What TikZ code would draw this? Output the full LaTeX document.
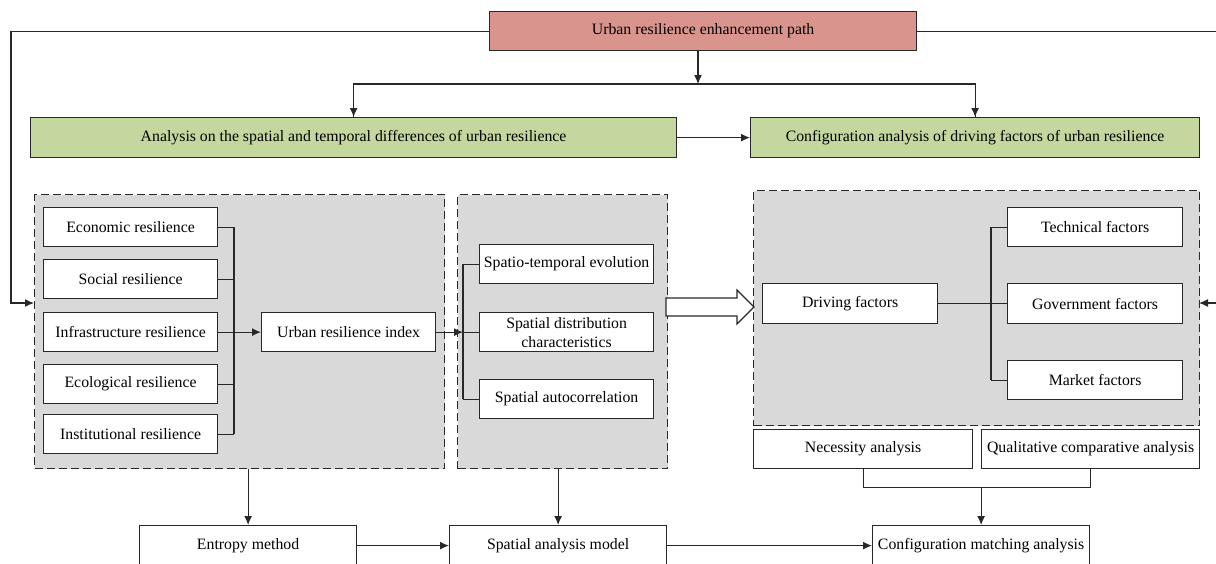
\documentclass[tikz,border=0pt]{standalone}
\usepackage{fontspec}
\setmainfont{Liberation Serif}
\usetikzlibrary{arrows.meta}
\definecolor{redfill}{RGB}{217,148,141}
\definecolor{greenfill}{RGB}{196,215,158}
\definecolor{panelfill}{RGB}{217,217,217}
\definecolor{linec}{RGB}{40,40,40}
\begin{document}
\begin{tikzpicture}[x=1pt,y=-1pt,
  font=\fontsize{15.8}{19}\selectfont,
  line width=1.2pt,
  box/.style={draw=linec, fill=white, inner sep=1pt, anchor=north west, align=center, text=black},
  redbox/.style={box, fill=redfill},
  greenbox/.style={box, fill=greenfill},
  panel/.style={draw=linec, fill=panelfill, dash pattern=on 8pt off 4pt, anchor=north west, inner sep=0pt},
  ln/.style={draw=linec},
  arr/.style={draw=linec, -{Latex[length=9pt,width=8pt]}}]
\useasboundingbox (0,0) rectangle (1216,563);
\clip (0,0) rectangle (1216,563);
% panels
\node[panel, minimum width=410pt, minimum height=274pt] (pA) at (34,194) {};
\node[panel, minimum width=210pt, minimum height=274pt] (pB) at (457,194) {};
\node[panel, minimum width=446pt, minimum height=235pt] (pC) at (753,190) {};
% top
\node[redbox, minimum width=427pt, minimum height=39pt] (red) at (489,11) {Urban resilience enhancement path};
\node[greenbox, minimum width=646pt, minimum height=40pt] (gL) at (30,117) {Analysis on the spatial and temporal differences of urban resilience};
\node[greenbox, minimum width=449pt, minimum height=40pt] (gR) at (750,117) {Configuration analysis of driving factors of urban resilience};
% left panel boxes
\node[box, minimum width=174pt, minimum height=39pt] (b1) at (43,207) {Economic resilience};
\node[box, minimum width=174pt, minimum height=39pt] (b2) at (43,259) {Social resilience};
\node[box, minimum width=174pt, minimum height=39pt] (b3) at (43,312) {Infrastructure resilience};
\node[box, minimum width=174pt, minimum height=39pt] (b4) at (43,364) {Ecological resilience};
\node[box, minimum width=174pt, minimum height=39pt] (b5) at (43,414) {Institutional resilience};
\node[box, minimum width=174pt, minimum height=39pt] (idx) at (261,312) {Urban resilience index};
% middle panel boxes
\node[box, minimum width=174pt, minimum height=39pt] (m1) at (479,244) {Spatio-temporal evolution};
\node[box, minimum width=174pt, minimum height=39pt] (m2) at (479,312) {Spatial distribution\\characteristics};
\node[box, minimum width=174pt, minimum height=39pt] (m3) at (479,379) {Spatial autocorrelation};
% right panel boxes
\node[box, minimum width=175pt, minimum height=40pt] (drv) at (762,283) {Driving factors};
\node[box, minimum width=175pt, minimum height=39pt] (tec) at (1007,207) {Technical factors};
\node[box, minimum width=175pt, minimum height=40pt] (gov) at (1007,283) {Government factors};
\node[box, minimum width=175pt, minimum height=39pt] (mkt) at (1007,360) {Market factors};
\node[box, minimum width=219pt, minimum height=39pt] (nec) at (753,429) {Necessity analysis};
\node[box, minimum width=218pt, minimum height=39pt] (qca) at (981,429) {Qualitative comparative analysis};
% bottom
\node[box, minimum width=217pt, minimum height=40pt] (ent) at (139,525) {Entropy method};
\node[box, minimum width=217pt, minimum height=40pt] (sam) at (449,525) {Spatial analysis model};
\node[box, minimum width=217pt, minimum height=40pt] (cfg) at (872,525) {Configuration matching analysis};
% coordinates
\coordinate (lcorner) at (11,303);
\coordinate (pAin) at (34,303);
\coordinate (rcorner) at (1224,303);
\coordinate (pCin) at (1199,303);
\coordinate (hub) at (698,84);
\coordinate (busA) at (234,0);
\coordinate (busB) at (463,0);
\coordinate (busC) at (991,0);
% top connectors
\draw[arr] (red.west) -| (lcorner) -- (pAin);
\draw[arr] (red.east) -| (rcorner) -- (pCin);
\draw[arr] (red.south -| hub) -- (hub);
\draw[ln] (hub) -| ([xshift=0pt]gL.north);
\draw[ln] (hub) -| (gR.north);
\draw[arr] (gL.north |- hub) -- (gL.north);
\draw[arr] (gR.north |- hub) -- (gR.north);
\draw[arr] (gL.east) -- (gR.west);
% left panel connectors
\foreach \b in {b1,b2,b4,b5} \draw[ln] (\b.east) -- (\b.east -| busA);
\draw[ln] (b1.east -| busA) -- (b5.east -| busA);
\draw[arr] (b3.east) -- (idx.west);
\draw[arr] (idx.east) -- (idx.east -| busB);
% middle panel connectors
\draw[ln] (m1.west -| busB) -- (m3.west -| busB);
\foreach \m in {m1,m2,m3} \draw[ln] (\m.west -| busB) -- (\m.west);
% hollow arrow
\draw[draw=linec, fill=white, line width=1.1pt] (666,298) -- (737,298) -- (737,290) -- (754,307) -- (737,324) -- (737,316) -- (666,316) -- cycle;
% right panel connectors
\draw[ln] (drv.east) -- (gov.west);
\draw[ln] (tec.west -| busC) -- (mkt.west -| busC);
\draw[ln] (tec.west -| busC) -- (tec.west);
\draw[ln] (mkt.west -| busC) -- (mkt.west);
% bottom connectors
\draw[arr] (ent.north |- pA.south) -- (ent.north);
\draw[arr] (sam.north |- pB.south) -- (sam.north);
\draw[arr] (ent.east) -- (sam.west);
\draw[arr] (sam.east) -- (cfg.west);
\path (nec.south) ++(0,18) coordinate (nb);
\draw[ln] (nec.south) -- (nb) -| (qca.south);
\draw[arr] (nb -| cfg.north) -- (cfg.north);
\end{tikzpicture}
\end{document}
